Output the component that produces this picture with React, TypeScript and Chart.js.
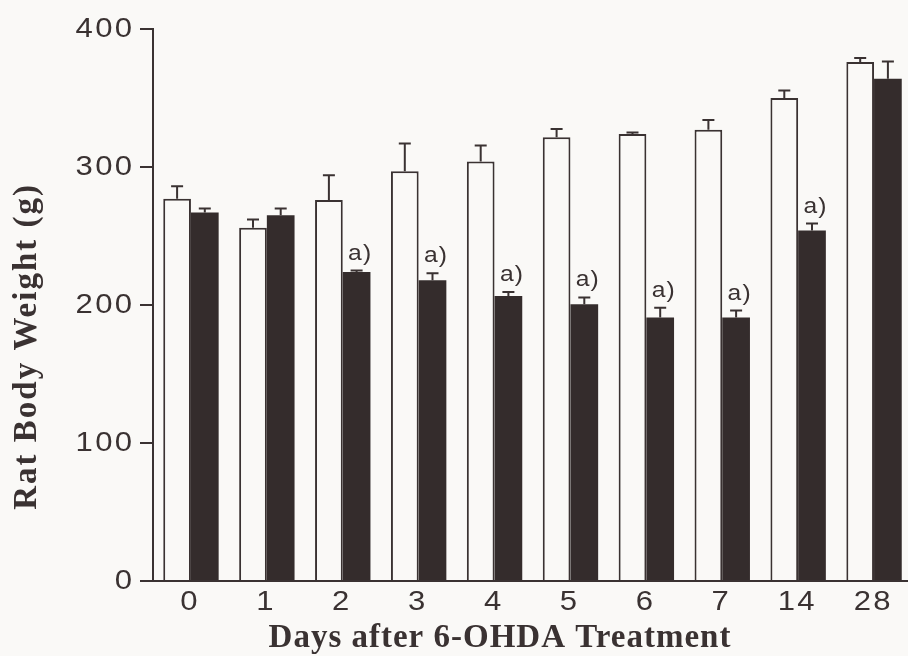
import React, { useEffect, useRef } from "react";
import { Chart, registerables } from "chart.js";

Chart.register(...registerables);

// Days after lesion (category axis)
const days = ["0", "1", "2", "3", "4", "5", "6", "7", "14", "28"];
// Sham-operated controls: mean body weight (g) and SEM
const controlMean = [277, 256, 276, 297, 304, 321.5, 324, 327, 350, 376];
const controlSem = [9, 6, 18, 20, 11.5, 6, 1, 7, 5.5, 3];
// 6-OHDA treated rats: mean body weight (g) and SEM
const ohdaMean = [267, 265, 224, 218, 206.5, 200.5, 191, 191, 254, 364];
const ohdaSem = [3, 5, 1, 5, 3, 5, 7, 5, 5, 12.5];
// Significance marks above the treated bars
const sigMarks = ["", "", "a)", "a)", "a)", "a)", "a)", "a)", "a)", ""];
// Y axis range and step
const yMin = 0;
const yMax = 400;
const yStep = 100;

const INK = "#3a3232";
const BAR_DARK = "#342c2c";
const PAPER = "#faf9f7";
const SANS = '"Liberation Sans", Arial, sans-serif';
const SERIF = '"Liberation Serif", "Times New Roman", serif';

// Draws a string with a slight horizontal stretch, like the wide Helvetica of the figure
function wideText(
  ctx: CanvasRenderingContext2D,
  text: string,
  x: number,
  y: number,
  align: CanvasTextAlign,
  stretch: number,
  spacing: number
) {
  ctx.save();
  (ctx as any).letterSpacing = spacing + "px";
  ctx.translate(x, y);
  ctx.scale(stretch, 1);
  ctx.textAlign = align;
  // trailing letter spacing would push the glyphs off their anchor
  const shift = align === "center" ? spacing / 2 : align === "right" ? spacing : 0;
  ctx.fillText(text, shift, 0);
  ctx.restore();
}

const errorBarPlugin = {
  id: "errorBars",
  afterDatasetsDraw(chart: any) {
    const { ctx } = chart;
    const yScale = chart.scales.y;
    const sets = [
      { means: controlMean, sems: controlSem },
      { means: ohdaMean, sems: ohdaSem },
    ];
    ctx.save();
    ctx.strokeStyle = INK;
    ctx.lineWidth = 2;
    sets.forEach((s, di) => {
      const meta = chart.getDatasetMeta(di);
      meta.data.forEach((bar: any, i: number) => {
        const top = yScale.getPixelForValue(s.means[i] + s.sems[i]);
        ctx.beginPath();
        ctx.moveTo(bar.x, bar.y);
        ctx.lineTo(bar.x, top);
        ctx.moveTo(bar.x - 6, top);
        ctx.lineTo(bar.x + 6, top);
        ctx.stroke();
      });
    });
    ctx.restore();
  },
};

const labelPlugin = {
  id: "labels",
  afterDraw(chart: any) {
    const { ctx, chartArea } = chart;
    const xScale = chart.scales.x;
    const yScale = chart.scales.y;
    ctx.save();
    ctx.fillStyle = INK;

    // y tick labels
    ctx.font = "27px " + SANS;
    ctx.textBaseline = "middle";
    yScale.ticks.forEach((t: any) => {
      const y = yScale.getPixelForValue(t.value);
      wideText(ctx, String(t.value), chartArea.left - 21, y + 1, "right", 1.15, 2);
    });

    // x category labels
    days.forEach((d, i) => {
      const x = xScale.getPixelForTick(i);
      wideText(ctx, d, x - 2, chartArea.bottom + 22, "center", 1.15, 2);
    });

    // significance marks over the treated bars
    const meta = chart.getDatasetMeta(1);
    ctx.font = "22px " + SANS;
    ctx.textBaseline = "alphabetic";
    meta.data.forEach((bar: any, i: number) => {
      if (!sigMarks[i]) return;
      const top = yScale.getPixelForValue(ohdaMean[i] + ohdaSem[i]);
      wideText(ctx, sigMarks[i], bar.x + 3, top - 11, "center", 1.12, 1);
    });

    // axis titles
    ctx.textAlign = "center";
    (ctx as any).letterSpacing = "1px";
    ctx.font = "bold 33px " + SERIF;
    ctx.textBaseline = "alphabetic";
    ctx.fillText("Days after 6-OHDA Treatment", 500, chartArea.bottom + 66);
    ctx.translate(27, chartArea.top + chartArea.height * 0.575);
    ctx.rotate(-Math.PI / 2);
    (ctx as any).letterSpacing = "2px";
    ctx.textBaseline = "middle";
    ctx.fillText("Rat Body Weight (g)", 0, 0);
    ctx.restore();
  },
};

export default function App() {
  const canvasRef = useRef<HTMLCanvasElement | null>(null);

  useEffect(() => {
    if (!canvasRef.current) return;
    const chart = new Chart(canvasRef.current, {
      type: "bar",
      data: {
        labels: days,
        datasets: [
          {
            label: "Control",
            data: controlMean,
            backgroundColor: PAPER,
            borderColor: INK,
            borderWidth: 2,
            borderSkipped: "bottom",
          },
          {
            label: "6-OHDA",
            data: ohdaMean,
            backgroundColor: BAR_DARK,
            borderColor: BAR_DARK,
            borderWidth: 0,
          },
        ],
      },
      options: {
        animation: false,
        responsive: false,
        devicePixelRatio: 1,
        layout: { padding: { top: 29, right: 0, left: 0, bottom: 0 } },
        plugins: {
          legend: { display: false },
          tooltip: { enabled: false },
        },
        datasets: {
          bar: { categoryPercentage: 0.73, barPercentage: 1.0 },
        },
        scales: {
          x: {
            type: "category",
            grid: { display: false, drawTicks: false },
            border: { display: true, color: INK, width: 2 },
            ticks: { display: false, autoSkip: false },
            afterFit: (scale: any) => {
              scale.height = 75;
            },
          },
          y: {
            type: "linear",
            min: yMin,
            max: yMax,
            grid: {
              display: true,
              drawOnChartArea: false,
              drawTicks: true,
              tickLength: 13,
              color: INK,
              lineWidth: 2,
            },
            border: { display: true, color: INK, width: 2 },
            ticks: { display: false, stepSize: yStep },
            afterFit: (scale: any) => {
              scale.width = 153;
            },
          },
        },
      },
      plugins: [errorBarPlugin, labelPlugin],
    });
    return () => chart.destroy();
  }, []);

  return (
    <div
      style={{
        position: "fixed",
        left: 0,
        top: 0,
        width: 908,
        height: 656,
        overflow: "hidden",
        background: PAPER,
      }}
    >
      <canvas ref={canvasRef} width={912} height={656} style={{ display: "block" }} />
    </div>
  );
}
